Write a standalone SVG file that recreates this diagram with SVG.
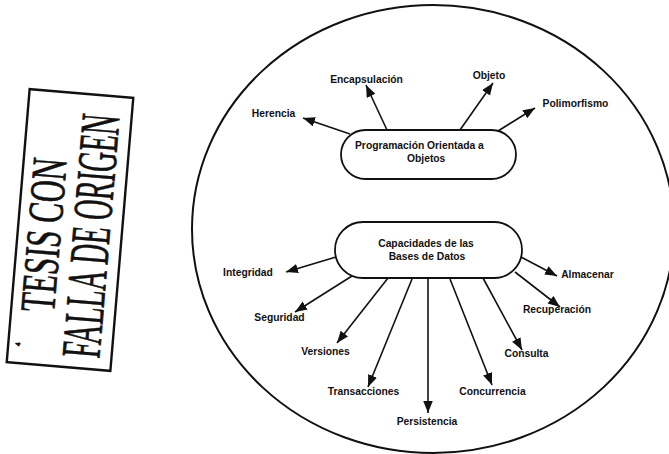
<svg xmlns="http://www.w3.org/2000/svg" width="669" height="454" viewBox="0 0 669 454">
  <style>
    .lbl { font-family: "Liberation Sans", Arial, sans-serif; font-size: 10.3px; font-weight: bold; fill: #111; }
    .ctr { text-anchor: middle; }
    .pill { fill: #fff; stroke: #111; stroke-width: 1.8; }
    .conn line { stroke: #111; stroke-width: 1.6; marker-end: url(#head); }
    .stamp { font-family: "Liberation Serif", "Times New Roman", serif; fill: #111; stroke: #111; stroke-width: 0.7; }
  </style>
  <defs>
    <marker id="head" markerUnits="userSpaceOnUse" markerWidth="13" markerHeight="10" refX="12" refY="4.75" orient="auto">
      <path d="M0,0 L12,4.75 L0,9.5 z" fill="#111"/>
    </marker>
  </defs>

  <rect width="669" height="454" fill="#fff"/>

  <!-- rubber stamp, rotated to read bottom to top -->
  <g id="stamp" transform="translate(70,230) rotate(-85.2)">
    <rect x="-137" y="-52" width="274" height="104" fill="none" stroke="#111" stroke-width="2.4"/>
    <text class="stamp" x="-7" y="-9" font-size="50" text-anchor="middle" textLength="154" lengthAdjust="spacingAndGlyphs">TESIS CON</text>
    <text class="stamp" x="-4" y="40" font-size="56" text-anchor="middle" textLength="244" lengthAdjust="spacingAndGlyphs">FALLA DE ORIGEN</text>
    <text class="stamp" x="-120" y="-40" font-size="7" stroke-width="0.3">4</text>
  </g>

  <!-- enclosing ellipse -->
  <ellipse id="boundary" cx="433" cy="229" rx="241" ry="224" fill="none" stroke="#111" stroke-width="2"/>

  <!-- connectors -->
  <g id="connectors" class="conn">
    <line x1="350" y1="134" x2="303" y2="118"/>
    <line x1="387" y1="130" x2="366" y2="85"/>
    <line x1="460" y1="130" x2="493" y2="83"/>
    <line x1="498" y1="131" x2="535" y2="108"/>

    <line x1="336" y1="257" x2="286" y2="272"/>
    <line x1="352" y1="276" x2="295" y2="312"/>
    <line x1="388" y1="278" x2="337" y2="343"/>
    <line x1="412" y1="279" x2="368" y2="387"/>
    <line x1="428" y1="279" x2="428" y2="413"/>
    <line x1="450" y1="279" x2="492" y2="385"/>
    <line x1="483" y1="278" x2="522" y2="350"/>
    <line x1="515" y1="272" x2="560" y2="307"/>
    <line x1="521" y1="257" x2="557" y2="276"/>
  </g>

  <!-- central concepts -->
  <g id="poo">
    <rect class="pill" x="341" y="130" width="175" height="49" rx="24.5"/>
    <text class="lbl" x="355" y="149">Programación Orientada a</text>
    <text class="lbl" x="407" y="162">Objetos</text>
  </g>
  <g id="capacidades">
    <rect class="pill" x="335" y="222" width="187" height="56" rx="28"/>
    <text class="lbl ctr" x="426" y="247" font-size="11">Capacidades de las</text>
    <text class="lbl ctr" x="427" y="260" font-size="11">Bases de Datos</text>
  </g>

  <!-- object-oriented features -->
  <g id="herencia"><text class="lbl ctr" x="273.5" y="117">Herencia</text></g>
  <g id="encapsulacion"><text class="lbl ctr" x="366.5" y="83">Encapsulación</text></g>
  <g id="objeto"><text class="lbl ctr" x="489" y="79">Objeto</text></g>
  <g id="polimorfismo"><text class="lbl ctr" x="575.5" y="107">Polimorfismo</text></g>

  <!-- database capabilities -->
  <g id="integridad"><text class="lbl ctr" x="248" y="276">Integridad</text></g>
  <g id="seguridad"><text class="lbl ctr" x="279.5" y="321">Seguridad</text></g>
  <g id="versiones"><text class="lbl ctr" x="325.5" y="355">Versiones</text></g>
  <g id="transacciones"><text class="lbl ctr" x="363.5" y="395">Transacciones</text></g>
  <g id="persistencia"><text class="lbl ctr" x="427" y="425">Persistencia</text></g>
  <g id="concurrencia"><text class="lbl ctr" x="492.5" y="395">Concurrencia</text></g>
  <g id="consulta"><text class="lbl ctr" x="526.5" y="357">Consulta</text></g>
  <g id="recuperacion"><text class="lbl ctr" x="557" y="313">Recuperación</text></g>
  <g id="almacenar"><text class="lbl ctr" x="587.5" y="278">Almacenar</text></g>
</svg>
